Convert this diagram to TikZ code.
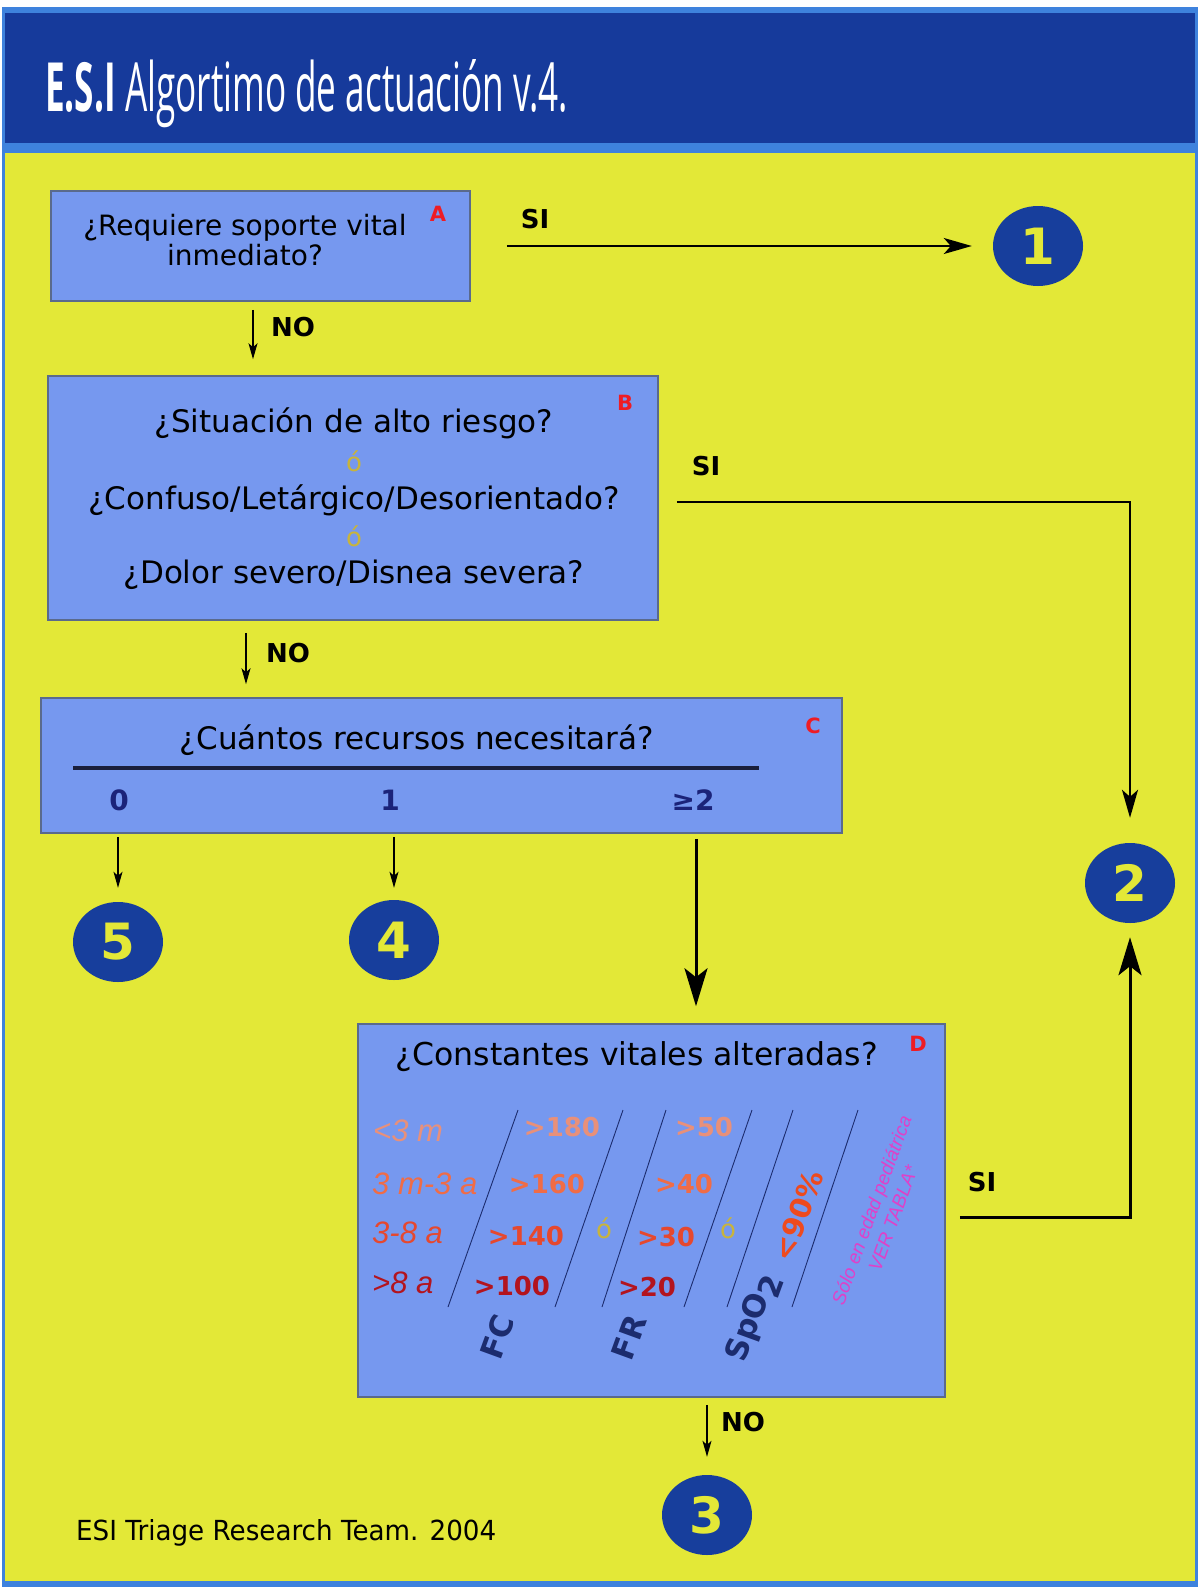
\documentclass[tikz,border=0pt]{standalone}
\usepackage{fontspec}
\usepackage{graphicx}
\setmainfont{DejaVu Sans}
\newfontfamily\libsans{Liberation Sans}
\newfontfamily\opensans{Open Sans}
\usetikzlibrary{arrows.meta,shapes.geometric}
\definecolor{ylw}{HTML}{E3E837}
\definecolor{hdr}{HTML}{163A9B}
\definecolor{brd}{HTML}{3E82DD}
\definecolor{boxf}{HTML}{7698EF}
\definecolor{boxd}{HTML}{5A6A8C}
\definecolor{circf}{HTML}{173E9C}
\definecolor{navy}{HTML}{1B2379}
\definecolor{lred}{HTML}{EE1C24}
\definecolor{oyel}{HTML}{C8B43C}
\definecolor{rowa}{HTML}{E8907A}
\definecolor{rowb}{HTML}{F06C46}
\definecolor{rowc}{HTML}{E6482E}
\definecolor{rowd}{HTML}{B3141E}
\definecolor{mag}{HTML}{E040C8}
\definecolor{pct}{HTML}{EE4A1E}
\definecolor{tnavy}{HTML}{1C2C6E}
\definecolor{hline}{HTML}{1A1F3C}
\newcommand{\fs}[1]{\fontsize{#1}{#1}\selectfont}
\begin{document}
\begin{tikzpicture}[x=1pt,y=-1pt,
  box/.style={draw=boxd, line width=1.5pt, fill=boxf, rectangle, inner sep=0},
  txt/.style={inner sep=0, align=center, font=\fs{31}},
  ohh/.style={inner sep=0, text=oyel, font=\fs{26}},
  lab/.style={inner sep=0, font=\bfseries\fs{26}},
  letter/.style={inner sep=0, text=lred, font=\bfseries\fs{21}},
  numc/.style={inner sep=0, text=navy, font=\bfseries\fs{28}},
  circ/.style={ellipse, fill=circf, minimum width=90pt, minimum height=80pt, inner sep=0, text=ylw, font=\bfseries\fs{50}},
  age/.style={inner sep=0, anchor=west, font=\libsans\itshape\fs{31}},
  val/.style={inner sep=0, font=\bfseries\fs{26}},
  rot/.style={inner sep=0, rotate=70, text=tnavy, font=\bfseries\fs{31}},
  slant/.style={draw=tnavy, line width=0.9pt},
  thinarr/.style={-{Stealth[length=16pt,width=9pt,inset=4pt]}, line width=1.3pt},
  midarr/.style={-{Stealth[length=28pt,width=16pt,inset=7pt]}, line width=2pt},
  thickarr/.style={-{Stealth[length=38pt,width=23pt,inset=9pt]}, line width=3pt}]
% background
\fill[white] (0,0) rectangle (1198,1587);
\fill[brd] (2,7) rectangle (1198,1587);
\fill[hdr] (5,13) rectangle (1195,143);
\fill[ylw] (5,153) rectangle (1195,1581);
\useasboundingbox (0,0) rectangle (1198,1587);
% title
\node[anchor=base west, text=white, inner sep=0] (title) at (45,111)
  {\resizebox{523pt}{52pt}{\opensans\bfseries E.S.I\mdseries\ Algortimo de actuación v.4.}};
% boxes
\node[box, minimum width=419pt, minimum height=110pt] (boxA) at (260.5,246) {};
\node[box, minimum width=610pt, minimum height=244pt] (boxB) at (353,498) {};
\node[box, minimum width=801pt, minimum height=135pt] (boxC) at (441.5,765.5) {};
\node[box, minimum width=587pt, minimum height=373pt] (boxD) at (651.5,1210.5) {};
% box A
\node[txt, font=\fs{28}] (tA) at (245,240) {¿Requiere soporte vital\\[2pt]inmediato?};
\node[letter] (lA) at (438,214) {A};
% box B
\node[txt] (tB1) at (354,423) {¿Situación de alto riesgo?};
\node[ohh] (oB1) at (354,461) {ó};
\node[txt] (tB2) at (354,500) {¿Confuso/Letárgico/Desorientado?};
\node[ohh] (oB2) at (354,536) {ó};
\node[txt] (tB3) at (354,575) {¿Dolor severo/Disnea severa?};
\node[letter] (lB) at (625,403) {B};
% box C
\node[txt] (tC) at (417,740) {¿Cuántos recursos necesitará?};
\draw[hline, line width=4pt] (73,768) -- (759,768);
\node[numc] (n0) at (119,800) {0};
\node[numc] (n1) at (390,800) {1};
\node[numc] (n2) at (693,800) {≥2};
\node[letter] (lC) at (813,726) {C};
% box D
\node[txt, font=\fs{31.5}] (tD) at (637,1057) {¿Constantes vitales alteradas?};
\node[letter] (lD) at (918,1044) {D};
\draw[slant] (518,1110) -- (448,1307);
\draw[slant] (623,1110) -- (555,1307);
\draw[slant] (666,1110) -- (602,1307);
\draw[slant] (752,1110) -- (684,1307);
\draw[slant] (793,1110) -- (727,1307);
\draw[slant] (858,1110) -- (792,1307);
\node[age, text=rowa] (ag1) at (373,1131) {<3 m};
\node[age, text=rowb] (ag2) at (372,1184) {3 m-3 a};
\node[age, text=rowc] (ag3) at (372,1233) {3-8 a};
\node[age, text=rowd] (ag4) at (372,1283) {>8 a};
\node[val, text=rowa] (fc1) at (562,1127) {>180};
\node[val, text=rowb] (fc2) at (547,1184) {>160};
\node[val, text=rowc] (fc3) at (526,1236) {>140};
\node[val, text=rowd] (fc4) at (512,1286) {>100};
\node[val, text=rowa] (fr1) at (704,1127) {>50};
\node[val, text=rowb] (fr2) at (684,1184) {>40};
\node[val, text=rowc] (fr3) at (666,1237) {>30};
\node[val, text=rowd] (fr4) at (647,1287) {>20};
\node[ohh] (oD1) at (604,1228) {ó};
\node[ohh] (oD2) at (728,1228) {ó};
\node[rot] (fc) at (497,1337) {FC};
\node[rot] (fr) at (629,1337) {FR};
\node[rot] (spo) at (754,1318) {SpO\raisebox{-9pt}{2}};
\node[rot, text=pct, font=\bfseries\fs{29}] (p90) at (798,1216) {<90\%};
\node[rot, text=mag, align=center, font=\libsans\itshape\fontsize{19}{23}\selectfont] (ped) at (882,1214) {Sólo en edad pediátrica\\VER TABLA*};
% circles
\node[circ] (c1) at (1038,246) {1};
\node[circ] (c2) at (1130,883) {2};
\node[circ] (c3) at (707,1515) {3};
\node[circ] (c4) at (394,940) {4};
\node[circ] (c5) at (118,942) {5};
% connectors
\coordinate (xa) at (253,0);
\coordinate (xb) at (246,0);
\coordinate (xcd) at (696,0);
\coordinate (bsi) at (1130,502);
\coordinate (dsi) at (1130,1217);
\draw[midarr, shorten <=36pt, shorten >=21pt] (boxA.east) -- (c1.west);
\draw[midarr, shorten <=18pt, shorten >=25pt] (boxB.east |- bsi) -- (bsi) -- (c2.north);
\draw[thickarr, shorten <=14pt, shorten >=14pt] (boxD.east |- dsi) -- (dsi) -- (c2.south);
\draw[thinarr, shorten <=8pt, shorten >=16pt] (boxA.south -| xa) -- (boxB.north -| xa);
\draw[thinarr, shorten <=12pt, shorten >=13pt] (boxB.south -| xb) -- (boxC.north -| xb);
\draw[thinarr, shorten <=3pt, shorten >=14pt] (boxC.south -| c5) -- (c5.north);
\draw[thinarr, shorten <=3pt, shorten >=12pt] (boxC.south -| c4) -- (c4.north);
\draw[thickarr, shorten <=5pt, shorten >=17pt] (boxC.south -| xcd) -- (boxD.north -| xcd);
\draw[thinarr, shorten <=7pt, shorten >=18pt] (boxD.south -| c3) -- (c3.north);
% connector labels
\node[lab] (siA) at (535,219) {SI};
\node[lab] (siB) at (706,466) {SI};
\node[lab] (siD) at (982,1182) {SI};
\node[lab] (noA) at (293,327) {NO};
\node[lab] (noB) at (288,653) {NO};
\node[lab] (noD) at (743,1422) {NO};
% footer
\node[anchor=base west, inner sep=0] (foot) at (76,1540) {\resizebox{420pt}{21pt}{\fs{26}ESI Triage Research Team. 2004}};
\end{tikzpicture}
\end{document}
